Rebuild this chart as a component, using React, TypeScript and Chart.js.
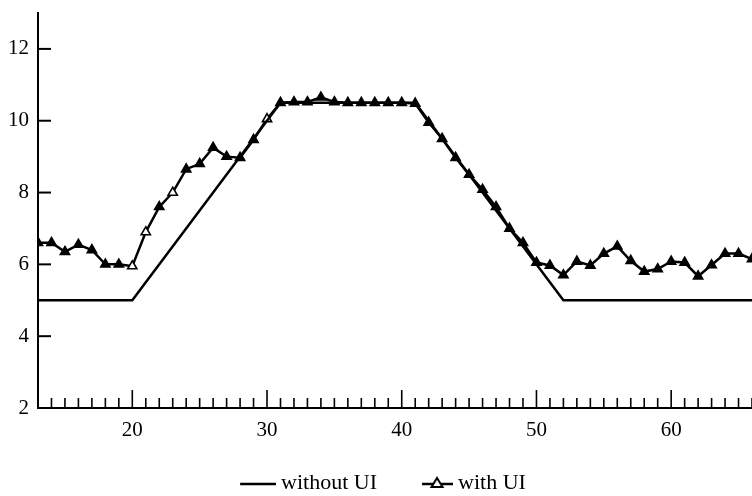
import React, { useEffect, useRef } from "react";
import { Chart, registerables } from "chart.js";

Chart.register(...registerables);

// "without UI" polyline break points
const withoutX = [13, 20, 31, 41, 52, 66];
const withoutY = [5, 5, 10.5, 10.5, 5, 5];

// "with UI" samples, one per unit from 13 to 66
const withX = [
  13, 14, 15, 16, 17, 18, 19, 20, 21, 22, 23, 24, 25, 26, 27, 28, 29, 30,
  31, 32, 33, 34, 35, 36, 37, 38, 39, 40, 41, 42, 43, 44, 45, 46, 47, 48,
  49, 50, 51, 52, 53, 54, 55, 56, 57, 58, 59, 60, 61, 62, 63, 64, 65, 66,
];
const withY = [
  6.6, 6.6, 6.35, 6.55, 6.4, 6.0, 6.0, 5.95, 6.9, 7.6, 8.0, 8.65, 8.8, 9.25, 9.0, 8.97, 9.47, 10.05,
  10.5, 10.52, 10.52, 10.65, 10.52, 10.5, 10.5, 10.5, 10.5, 10.5, 10.48, 9.95, 9.5, 8.97, 8.5, 8.08, 7.6, 7.0,
  6.6, 6.05, 5.97, 5.7, 6.08, 5.97, 6.3, 6.5, 6.1, 5.8, 5.87, 6.08, 6.05, 5.67, 5.98, 6.3, 6.3, 6.15,
];
const hollowAt = [20, 21, 23, 30];

const seriesLabels = ["without UI", "with UI"];
const xTickLabels = [20, 30, 40, 50, 60];
const yTickLabels = [2, 4, 6, 8, 10, 12];
const xMin = 13;
const xMax = 66;
const yMin = 2;
const yMax = 13;

const FONT = "'Liberation Serif', 'DejaVu Serif', serif";

function makeLegendImage(withMarker: boolean): HTMLCanvasElement {
  const c = document.createElement("canvas");
  c.width = 56;
  c.height = 18;
  const ctx = c.getContext("2d")!;
  ctx.strokeStyle = "#000";
  ctx.lineWidth = 2.5;
  ctx.beginPath();
  ctx.moveTo(withMarker ? 25 : 20, 10);
  ctx.lineTo(56, 10);
  ctx.stroke();
  if (withMarker) {
    const cx = 40;
    ctx.beginPath();
    ctx.moveTo(cx, 4);
    ctx.lineTo(cx + 5.5, 13);
    ctx.lineTo(cx - 5.5, 13);
    ctx.closePath();
    ctx.fillStyle = "#fff";
    ctx.fill();
    ctx.lineWidth = 2;
    ctx.stroke();
  }
  return c;
}

const tickMarks = {
  id: "tickMarks",
  beforeDatasetsDraw(chart: any) {
    const { ctx, chartArea, scales } = chart;
    const xs = scales.x;
    const ys = scales.y;
    ctx.save();
    ctx.strokeStyle = "#000";
    ctx.lineWidth = 1.6;
    for (let v = Math.ceil(xMin); v <= xMax; v++) {
      const px = xs.getPixelForValue(v);
      const len = v % 10 === 0 ? 18 : 10;
      ctx.beginPath();
      ctx.moveTo(px, chartArea.bottom);
      ctx.lineTo(px, chartArea.bottom - len);
      ctx.stroke();
    }
    ctx.lineWidth = 2;
    for (const v of yTickLabels) {
      if (v === yMin) continue;
      const py = ys.getPixelForValue(v);
      ctx.beginPath();
      ctx.moveTo(chartArea.left, py);
      ctx.lineTo(chartArea.left + 13, py);
      ctx.stroke();
    }
    ctx.restore();
  },
};

export default function App() {
  const ref = useRef<HTMLCanvasElement | null>(null);

  useEffect(() => {
    if (!ref.current) return;
    const legendImgs = [makeLegendImage(false), makeLegendImage(true)];
    const chart = new Chart(ref.current, {
      type: "line",
      data: {
        datasets: [
          {
            label: seriesLabels[0],
            data: withoutX.map((x, i) => ({ x, y: withoutY[i] })),
            borderColor: "#000",
            borderWidth: 2.5,
            pointRadius: 0,
            tension: 0,
          },
          {
            label: seriesLabels[1],
            data: withX.map((x, i) => ({ x, y: withY[i] })),
            borderColor: "#000",
            borderWidth: 2.5,
            pointStyle: "triangle",
            pointRadius: 5.3,
            pointBorderWidth: 1.6,
            pointBorderColor: "#000",
            pointBackgroundColor: withX.map((x) => (hollowAt.includes(x) ? "#fff" : "#000")),
            tension: 0,
          },
        ],
      },
      options: {
        animation: false,
        responsive: true,
        maintainAspectRatio: false,
        layout: { autoPadding: false, padding: { top: 13, right: 0, left: 0, bottom: -8 } },
        plugins: {
          tooltip: { enabled: false },
          legend: {
            position: "bottom",
            labels: {
              usePointStyle: true,
              pointStyleWidth: 44,
              padding: 26,
              color: "#000",
              font: { family: FONT, size: 22 },
              generateLabels: () =>
                seriesLabels.map((t, i) => ({
                  text: t,
                  pointStyle: legendImgs[i] as any,
                  fillStyle: "rgba(0,0,0,0)",
                  strokeStyle: "rgba(0,0,0,0)",
                  lineWidth: 0,
                  hidden: false,
                  datasetIndex: i,
                  fontColor: "#000",
                })),
            },
          },
        },
        scales: {
          x: {
            type: "linear",
            min: xMin,
            max: xMax,
            grid: { display: false, drawTicks: false },
            border: { display: true, color: "#000", width: 2 },
            afterBuildTicks: (s: any) => {
              s.ticks = xTickLabels.map((v) => ({ value: v }));
            },
            afterFit: (s: any) => {
              s.height = 38;
              s.paddingLeft = 0;
              s.paddingRight = 0;
            },
            ticks: {
              color: "#000",
              padding: 10,
              maxRotation: 0,
              font: { family: FONT, size: 21 },
            },
          },
          y: {
            type: "linear",
            min: yMin,
            max: yMax,
            grid: { display: false, drawTicks: false },
            border: { display: true, color: "#000", width: 2 },
            afterBuildTicks: (s: any) => {
              s.ticks = yTickLabels.map((v) => ({ value: v }));
            },
            afterFit: (s: any) => {
              s.width = 38;
              s.paddingTop = 0;
              s.paddingBottom = 0;
            },
            ticks: {
              color: "#000",
              padding: 9,
              font: { family: FONT, size: 21 },
            },
          },
        },
      },
      plugins: [tickMarks],
    });
    return () => chart.destroy();
  }, []);

  return (
    <div style={{ position: "absolute", left: 0, top: 0, width: 752, height: 496, background: "#fff" }}>
      <canvas ref={ref} />
    </div>
  );
}
